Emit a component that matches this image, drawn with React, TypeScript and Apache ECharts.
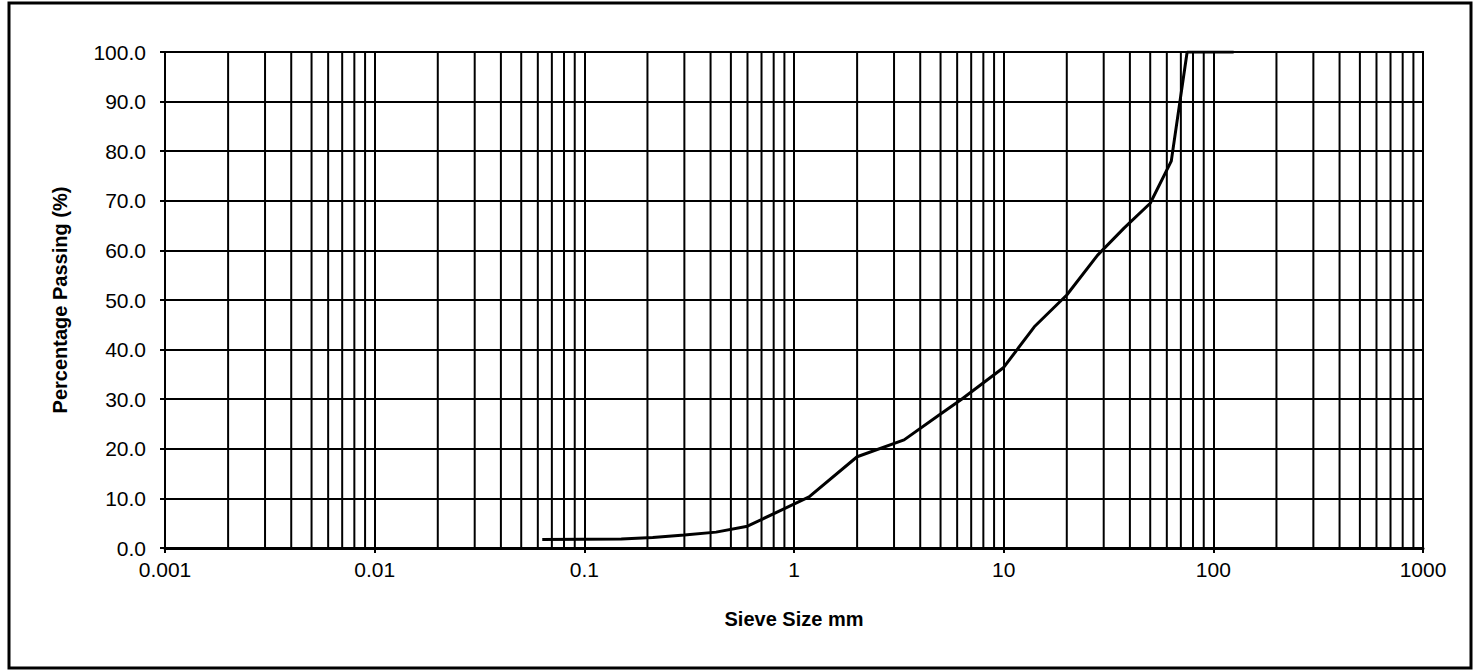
import React, { useEffect, useRef } from "react";
import * as echarts from "echarts";

const sieveSizes = [0.063, 0.15, 0.212, 0.3, 0.425, 0.6, 1.18, 2, 3.35, 5, 6.3, 10, 14, 20, 28, 37.5, 50, 63, 75, 125];
const percentPassing = [1.7, 1.8, 2.1, 2.6, 3.2, 4.4, 10.3, 18.4, 21.8, 27, 30, 36.4, 44.6, 51, 59, 64.5, 69.5, 78, 100, 100];
const xTickLabels = ["0.001", "0.01", "0.1", "1", "10", "100", "1000"];
const decades = [0.001, 0.01, 0.1, 1, 10, 100];
const minorMultipliers = [2, 3, 4, 5, 6, 7, 8, 9];

const FONT = "'Liberation Sans', Arial, sans-serif";

export default function App() {
  const ref = useRef<HTMLDivElement>(null);
  useEffect(() => {
    if (!ref.current) return;
    const chart = echarts.init(ref.current, undefined, { renderer: "svg" });
    const minorGrid: number[] = [];
    decades.forEach((d) => minorMultipliers.forEach((m) => minorGrid.push(+(d * m).toPrecision(6))));
    const gridSeries = minorGrid.map((v) => ({
      type: "line",
      silent: true,
      z: 1,
      symbol: "none",
      showSymbol: false,
      lineStyle: { color: "#000", width: 2 },
      data: [
        [v, 0],
        [v, 100],
      ],
    }));
    chart.setOption({
      animation: false,
      backgroundColor: "#fff",
      textStyle: { fontFamily: FONT },
      grid: {
        left: 165,
        top: 52,
        right: 50,
        bottom: 122,
        show: true,
        borderColor: "#000",
        borderWidth: 2,
      },
      graphic: [
        {
          type: "rect",
          shape: { x: 9, y: 3, width: 1462, height: 665 },
          style: { fill: "none", stroke: "#000", lineWidth: 3 },
          silent: true,
        },
      ],
      xAxis: {
        type: "log",
        logBase: 10,
        min: 0.001,
        max: 1000,
        name: "Sieve Size mm",
        nameLocation: "middle",
        nameGap: 61,
        nameTextStyle: { fontFamily: FONT, fontWeight: "bold", fontSize: 20, color: "#000" },
        axisLine: { show: true, lineStyle: { color: "#000", width: 3 } },
        axisTick: { show: true, length: 5, lineStyle: { color: "#000", width: 2 } },
        axisLabel: {
          fontFamily: FONT,
          fontSize: 21,
          color: "#000",
          margin: 11,
          formatter: (v: number) => {
            const i = Math.round(Math.log10(v)) + 3;
            return xTickLabels[i] ?? String(v);
          },
        },
        splitLine: { show: true, lineStyle: { color: "#000", width: 2 } },
      },
      yAxis: {
        type: "value",
        min: 0,
        max: 100,
        interval: 10,
        name: "Percentage Passing (%)",
        nameLocation: "middle",
        nameGap: 95,
        nameTextStyle: { fontFamily: FONT, fontWeight: "bold", fontSize: 20, color: "#000" },
        axisLine: { show: true, lineStyle: { color: "#000", width: 2 } },
        axisTick: { show: true, length: 5, lineStyle: { color: "#000", width: 2 } },
        axisLabel: {
          fontFamily: FONT,
          fontSize: 21,
          color: "#000",
          margin: 19,
          formatter: (v: number) => v.toFixed(1),
        },
        splitLine: { show: true, lineStyle: { color: "#000", width: 2 } },
      },
      series: [
        ...gridSeries,
        {
          type: "line",
          z: 3,
          data: sieveSizes.map((s, i) => [s, percentPassing[i]]),
          showSymbol: false,
          symbol: "none",
          smooth: false,
          lineStyle: { color: "#000", width: 3 },
        },
      ],
    });
    return () => chart.dispose();
  }, []);
  return (
    <div
      ref={ref}
      style={{ position: "fixed", left: 0, top: 0, width: 1473, height: 670, background: "#fff" }}
    />
  );
}
